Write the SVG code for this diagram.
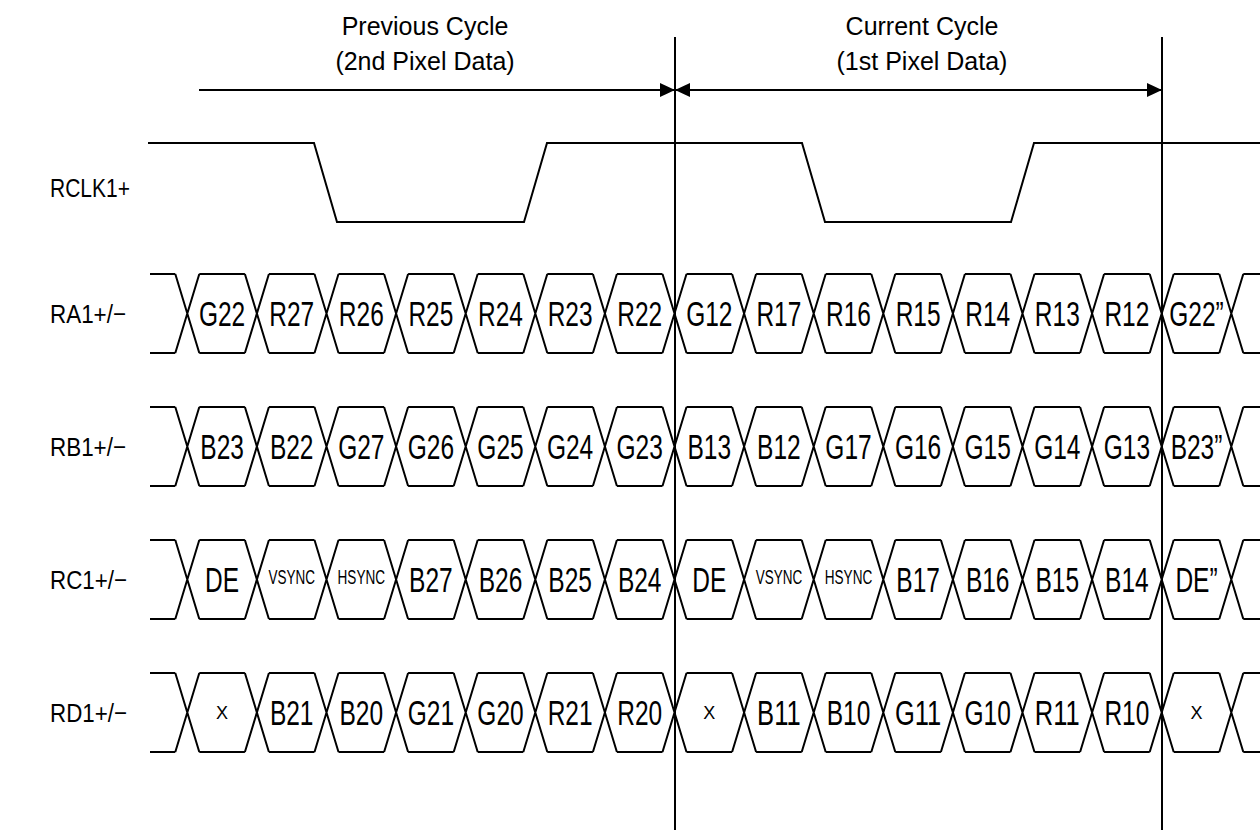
<svg xmlns="http://www.w3.org/2000/svg" xmlns:xlink="http://www.w3.org/1999/xlink" width="1260" height="830" viewBox="0 0 1260 830">
<style>
.ln{fill:none;stroke:#000;stroke-width:2}
.vl{fill:none;stroke:#000;stroke-width:2}
.t{font-family:"Liberation Sans",Arial,sans-serif;fill:#000}
.ttl{font-size:25px;text-anchor:middle}
.lbl{font-size:26px}
.d{font-size:35px;text-anchor:middle}
.s{font-size:20px;text-anchor:middle}
.x{font-size:18px;text-anchor:middle}
</style>
<defs>
<marker id="ah" viewBox="0 0 15 14" refX="15" refY="7" markerWidth="15" markerHeight="14" markerUnits="userSpaceOnUse" orient="auto-start-reverse"><path d="M0,0 L15,7 L0,14 z" fill="#000"/></marker>
<path id="seg" class="ln" d="M-12,0 L12,79 M-12,79 L12,0 M12,0 H57.6 M12,79 H57.6"/>
<g id="busrow">
<path class="ln" d="M150,0 H175.3 M150,79 H175.3"/>
<use href="#seg" x="187.3"/><use href="#seg" x="256.9"/><use href="#seg" x="326.5"/><use href="#seg" x="396.1"/>
<use href="#seg" x="465.7"/><use href="#seg" x="535.3"/><use href="#seg" x="604.9"/><use href="#seg" x="674.5"/>
<use href="#seg" x="744.1"/><use href="#seg" x="813.7"/><use href="#seg" x="883.3"/><use href="#seg" x="952.9"/>
<use href="#seg" x="1022.5"/><use href="#seg" x="1092.1"/><use href="#seg" x="1161.7"/><use href="#seg" x="1231.3"/>
</g>
</defs>
<rect width="1260" height="830" fill="#fff"/>

<g id="cycle-markers">
<text class="t ttl" x="425" y="35">Previous Cycle</text>
<text class="t ttl" x="425" y="70">(2nd Pixel Data)</text>
<text class="t ttl" x="922" y="35">Current Cycle</text>
<text class="t ttl" x="922" y="70">(1st Pixel Data)</text>
</g>

<g id="connectors">
<line class="vl" x1="675" y1="37" x2="675" y2="830"/>
<line class="vl" x1="1162" y1="37" x2="1162" y2="830"/>
<line class="ln" x1="199" y1="90" x2="675" y2="90" marker-end="url(#ah)"/>
<line class="ln" x1="675" y1="90" x2="1162" y2="90" marker-start="url(#ah)" marker-end="url(#ah)"/>
</g>

<g id="RCLK1">
<text class="t lbl" x="50" y="197" textLength="80" lengthAdjust="spacingAndGlyphs">RCLK1+</text>
<path class="ln" d="M148,143 H314 L337,222 H524 L547,143 H802 L825,222 H1011 L1034,143 H1260"/>
</g>

<g id="RA1">
<text class="t lbl" x="50" y="323" textLength="76" lengthAdjust="spacingAndGlyphs">RA1+/−</text>
<use href="#busrow" y="274"/>
<g class="t d">
<text x="222.1" y="326" textLength="46.3" lengthAdjust="spacingAndGlyphs">G22</text>
<text x="291.7" y="326" textLength="44.9" lengthAdjust="spacingAndGlyphs">R27</text>
<text x="361.3" y="326" textLength="44.9" lengthAdjust="spacingAndGlyphs">R26</text>
<text x="430.9" y="326" textLength="44.9" lengthAdjust="spacingAndGlyphs">R25</text>
<text x="500.5" y="326" textLength="44.9" lengthAdjust="spacingAndGlyphs">R24</text>
<text x="570.1" y="326" textLength="44.9" lengthAdjust="spacingAndGlyphs">R23</text>
<text x="639.7" y="326" textLength="44.9" lengthAdjust="spacingAndGlyphs">R22</text>
<text x="709.3" y="326" textLength="46.3" lengthAdjust="spacingAndGlyphs">G12</text>
<text x="778.9" y="326" textLength="44.9" lengthAdjust="spacingAndGlyphs">R17</text>
<text x="848.5" y="326" textLength="44.9" lengthAdjust="spacingAndGlyphs">R16</text>
<text x="918.1" y="326" textLength="44.9" lengthAdjust="spacingAndGlyphs">R15</text>
<text x="987.7" y="326" textLength="44.9" lengthAdjust="spacingAndGlyphs">R14</text>
<text x="1057.3" y="326" textLength="44.9" lengthAdjust="spacingAndGlyphs">R13</text>
<text x="1126.9" y="326" textLength="44.9" lengthAdjust="spacingAndGlyphs">R12</text>
<text x="1196.5" y="326" textLength="54.5" lengthAdjust="spacingAndGlyphs">G22”</text>
</g>
</g>

<g id="RB1">
<text class="t lbl" x="50" y="456" textLength="76" lengthAdjust="spacingAndGlyphs">RB1+/−</text>
<use href="#busrow" y="407"/>
<g class="t d">
<text x="222.1" y="459" textLength="43.6" lengthAdjust="spacingAndGlyphs">B23</text>
<text x="291.7" y="459" textLength="43.6" lengthAdjust="spacingAndGlyphs">B22</text>
<text x="361.3" y="459" textLength="46.3" lengthAdjust="spacingAndGlyphs">G27</text>
<text x="430.9" y="459" textLength="46.3" lengthAdjust="spacingAndGlyphs">G26</text>
<text x="500.5" y="459" textLength="46.3" lengthAdjust="spacingAndGlyphs">G25</text>
<text x="570.1" y="459" textLength="46.3" lengthAdjust="spacingAndGlyphs">G24</text>
<text x="639.7" y="459" textLength="46.3" lengthAdjust="spacingAndGlyphs">G23</text>
<text x="709.3" y="459" textLength="43.6" lengthAdjust="spacingAndGlyphs">B13</text>
<text x="778.9" y="459" textLength="43.6" lengthAdjust="spacingAndGlyphs">B12</text>
<text x="848.5" y="459" textLength="46.3" lengthAdjust="spacingAndGlyphs">G17</text>
<text x="918.1" y="459" textLength="46.3" lengthAdjust="spacingAndGlyphs">G16</text>
<text x="987.7" y="459" textLength="46.3" lengthAdjust="spacingAndGlyphs">G15</text>
<text x="1057.3" y="459" textLength="46.3" lengthAdjust="spacingAndGlyphs">G14</text>
<text x="1126.9" y="459" textLength="46.3" lengthAdjust="spacingAndGlyphs">G13</text>
<text x="1196.5" y="459" textLength="51.7" lengthAdjust="spacingAndGlyphs">B23”</text>
</g>
</g>

<g id="RC1">
<text class="t lbl" x="50" y="589" textLength="77" lengthAdjust="spacingAndGlyphs">RC1+/−</text>
<use href="#busrow" y="540"/>
<g class="t d">
<text x="222.1" y="592" textLength="34" lengthAdjust="spacingAndGlyphs">DE</text>
<text x="430.9" y="592" textLength="43.6" lengthAdjust="spacingAndGlyphs">B27</text>
<text x="500.5" y="592" textLength="43.6" lengthAdjust="spacingAndGlyphs">B26</text>
<text x="570.1" y="592" textLength="43.6" lengthAdjust="spacingAndGlyphs">B25</text>
<text x="639.7" y="592" textLength="43.6" lengthAdjust="spacingAndGlyphs">B24</text>
<text x="709.3" y="592" textLength="34" lengthAdjust="spacingAndGlyphs">DE</text>
<text x="918.1" y="592" textLength="43.6" lengthAdjust="spacingAndGlyphs">B17</text>
<text x="987.7" y="592" textLength="43.6" lengthAdjust="spacingAndGlyphs">B16</text>
<text x="1057.3" y="592" textLength="43.6" lengthAdjust="spacingAndGlyphs">B15</text>
<text x="1126.9" y="592" textLength="43.6" lengthAdjust="spacingAndGlyphs">B14</text>
<text x="1196.5" y="592" textLength="42.2" lengthAdjust="spacingAndGlyphs">DE”</text>
</g>
<g class="t s">
<text x="291.7" y="584" textLength="46.5" lengthAdjust="spacingAndGlyphs">VSYNC</text>
<text x="361.3" y="584" textLength="47.5" lengthAdjust="spacingAndGlyphs">HSYNC</text>
<text x="778.9" y="584" textLength="46.5" lengthAdjust="spacingAndGlyphs">VSYNC</text>
<text x="848.5" y="584" textLength="47.5" lengthAdjust="spacingAndGlyphs">HSYNC</text>
</g>
</g>

<g id="RD1">
<text class="t lbl" x="50" y="722" textLength="77" lengthAdjust="spacingAndGlyphs">RD1+/−</text>
<use href="#busrow" y="673"/>
<g class="t x">
<text x="222.1" y="719">X</text>
<text x="709.3" y="719">X</text>
<text x="1196.5" y="719">X</text>
</g>
<g class="t d">
<text x="291.7" y="725" textLength="43.6" lengthAdjust="spacingAndGlyphs">B21</text>
<text x="361.3" y="725" textLength="43.6" lengthAdjust="spacingAndGlyphs">B20</text>
<text x="430.9" y="725" textLength="46.3" lengthAdjust="spacingAndGlyphs">G21</text>
<text x="500.5" y="725" textLength="46.3" lengthAdjust="spacingAndGlyphs">G20</text>
<text x="570.1" y="725" textLength="44.9" lengthAdjust="spacingAndGlyphs">R21</text>
<text x="639.7" y="725" textLength="44.9" lengthAdjust="spacingAndGlyphs">R20</text>
<text x="778.9" y="725" textLength="43.6" lengthAdjust="spacingAndGlyphs">B11</text>
<text x="848.5" y="725" textLength="43.6" lengthAdjust="spacingAndGlyphs">B10</text>
<text x="918.1" y="725" textLength="46.3" lengthAdjust="spacingAndGlyphs">G11</text>
<text x="987.7" y="725" textLength="46.3" lengthAdjust="spacingAndGlyphs">G10</text>
<text x="1057.3" y="725" textLength="44.9" lengthAdjust="spacingAndGlyphs">R11</text>
<text x="1126.9" y="725" textLength="44.9" lengthAdjust="spacingAndGlyphs">R10</text>
</g>
</g>
</svg>
